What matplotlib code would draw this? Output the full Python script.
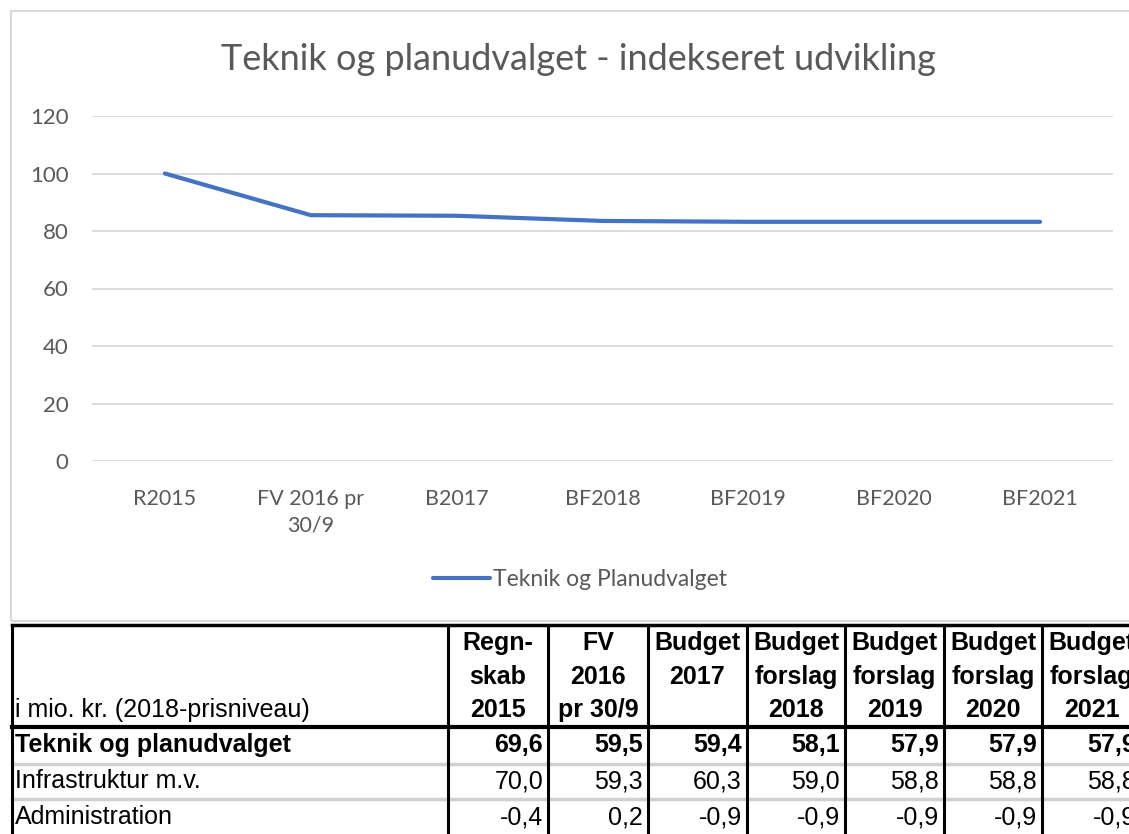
import matplotlib
matplotlib.use('Agg')
import matplotlib.pyplot as plt
from matplotlib.patches import Rectangle

W, H = 1129, 834

# chart data
categories = ['R2015', 'FV 2016 pr\n30/9', 'B2017', 'BF2018', 'BF2019', 'BF2020', 'BF2021']
index_values = [100, 85.5, 85.3, 83.5, 83.2, 83.2, 83.2]
series_name = 'Teknik og Planudvalget'
chart_title = 'Teknik og planudvalget - indekseret udvikling'

# table data
table_unit = 'i mio. kr. (2018-prisniveau)'
col_headers = [
    ['Regn-', 'skab', '2015'],
    ['FV', '2016', 'pr 30/9'],
    ['Budget', '2017', ''],
    ['Budget', 'forslag', '2018'],
    ['Budget', 'forslag', '2019'],
    ['Budget', 'forslag', '2020'],
    ['Budget', 'forslag', '2021'],
]
row_labels = ['Teknik og planudvalget', 'Infrastruktur m.v.', 'Administration']
row_values = [
    [69.6, 59.5, 59.4, 58.1, 57.9, 57.9, 57.9],
    [70.0, 59.3, 60.3, 59.0, 58.8, 58.8, 58.8],
    [-0.4, 0.2, -0.9, -0.9, -0.9, -0.9, -0.9],
]
row_bold = [True, False, False]

GREY_TXT = '#595959'
GRID = '#d9d9d9'
BLUE = '#4472c4'

fig = plt.figure(figsize=(W / 100, H / 100), dpi=100)
fig.patch.set_facecolor('white')

# chart frame
fig.add_artist(Rectangle((11 / W, 1 - 621 / H), (1160 - 11) / W, (621 - 11) / H,
                         transform=fig.transFigure, fill=False, ec=GRID, lw=1.5))

fig.text(578 / W, 1 - 60 / H, chart_title, ha='center', va='center',
         fontsize=26, color=GREY_TXT, family='Lato')

ax = fig.add_axes([92 / W, 1 - 461 / H, (1113 - 92) / W, (461 - 116) / H])
x = list(range(len(categories)))
line, = ax.plot(x, index_values, color=BLUE, lw=3, solid_capstyle='round', label=series_name)
ax.set_xlim(-0.5, len(categories) - 0.5)
ax.set_ylim(0, 120)
ax.set_yticks(range(0, 121, 20))
ax.set_xticks(x)
ax.set_xticklabels(categories)
ax.grid(axis='y', color=GRID, lw=1.3)
ax.set_axisbelow(True)
for s in ax.spines.values():
    s.set_visible(False)
ax.tick_params(length=0, labelsize=15.5, labelcolor=GREY_TXT)
ax.tick_params(axis='y', pad=17, labelsize=16)
ax.tick_params(axis='x', pad=20)
for t in ax.get_xticklabels() + ax.get_yticklabels():
    t.set_family('Lato')
for t in ax.get_xticklabels():
    t.set_linespacing(1.4)

leg = fig.legend(handles=[line], loc='center', bbox_to_anchor=(580 / W, 1 - 580 / H),
                 frameon=False, handlelength=2.5, handletextpad=0.15,
                 prop={'family': 'Lato', 'size': 16.5})
for t in leg.get_texts():
    t.set_color(GREY_TXT)

# table drawn in pixel coordinates
tab = fig.add_axes([0, 0, 1, 1])
tab.set_xlim(0, W)
tab.set_ylim(H, 0)
tab.axis('off')
tab.patch.set_visible(False)

col_widths = [436, 100, 100, 99, 98, 99, 98, 99]
edges = [12]
for w in col_widths:
    edges.append(edges[-1] + w)

top, head_bot = 625, 727
row_seps = [764, 799]
row_centers = [745, 781, 817]
head_lines = [643, 677, 710]
FS = 18
TF = 'Liberation Sans'

tab.plot([edges[0], W + 20], [top, top], color='black', lw=2.5, clip_on=False)
tab.plot([edges[0], W + 20], [head_bot, head_bot], color='black', lw=3, clip_on=False)
for y in row_seps:
    tab.plot([edges[0], W + 20], [y, y], color='#d0d0d0', lw=2.5, clip_on=False)
for e in edges:
    tab.plot([e, e], [top, H + 5], color='black', lw=2.2, clip_on=False)

tab.text(15, head_lines[2], table_unit, ha='left', va='center', fontsize=FS, family=TF)
for j, hdr in enumerate(col_headers):
    cx = (edges[j + 1] + edges[j + 2]) / 2
    for k, s in enumerate(hdr):
        tab.text(cx, head_lines[k], s, ha='center', va='center', fontsize=FS,
                 family=TF, fontweight='bold', clip_on=False)

for i, lab in enumerate(row_labels):
    wt = 'bold' if row_bold[i] else 'normal'
    tab.text(15, row_centers[i], lab, ha='left', va='center', fontsize=FS, family=TF, fontweight=wt)
    for j, v in enumerate(row_values[i]):
        s = f'{v:.1f}'.replace('.', ',')
        tab.text(edges[j + 2] - 5, row_centers[i], s, ha='right', va='center',
                 fontsize=FS, family=TF, fontweight=wt, clip_on=False)

fig.savefig('out.png', dpi=100)
